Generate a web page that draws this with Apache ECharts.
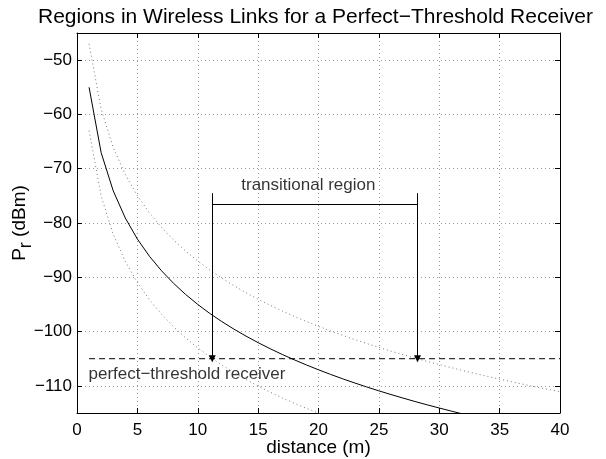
<!DOCTYPE html>
<html><head><meta charset="utf-8">
<script src="https://cdn.jsdelivr.net/npm/echarts@6/dist/echarts.min.js"></script>
<style>html,body{margin:0;padding:0;background:#fff}#c{width:606px;height:459px}</style>
</head><body><div id="c"></div>
<script>
// ---- data ----
const distance = [1,2,3,4,5,6,7,8,9,10,11,12,13,14,15,16,17,18,19,20,21,22,23,24,25,26,27,28,29,30,31,32,33,34,35,36,37,38,39,40];
const meanPr = [-55,-67.04,-74.08,-79.08,-82.96,-86.13,-88.80,-91.12,-93.17,-95,-96.66,-98.17,-99.56,-100.84,-102.04,-103.16,-104.22,-105.21,-106.15,-107.04,-107.89,-108.70,-109.47,-110.21,-110.92,-111.60,-112.25,-112.89,-113.50,-114.08,-114.65,-115.21,-115.74,-116.26,-116.76,-117.25,-117.73,-118.19,-118.64,-119.08];
const upperPr = [-47,-59.04,-66.08,-71.08,-74.96,-78.13,-80.80,-83.12,-85.17,-87,-88.66,-90.17,-91.56,-92.84,-94.04,-95.16,-96.22,-97.21,-98.15,-99.04,-99.89,-100.70,-101.47,-102.21,-102.92,-103.60,-104.25,-104.89,-105.50,-106.08,-106.65,-107.21,-107.74,-108.26,-108.76,-109.25,-109.73,-110.19,-110.64,-111.08];
const lowerPr = [-63,-75.04,-82.08,-87.08,-90.96,-94.13,-96.80,-99.12,-101.17,-103,-104.66,-106.17,-107.56,-108.84,-110.04,-111.16,-112.22,-113.21,-114.15,-115.04,-115.89,-116.70,-117.47,-118.21,-118.92,-119.60,-120.25,-120.89,-121.50,-122.08,-122.65,-123.21,-123.74,-124.26,-124.76,-125.25,-125.73,-126.19,-126.64,-127.08];
const thresholdX = [1, 40];
const thresholdPr = -105;
const regionX = [11.2, 28.2];
const regionTopPr = -74.5;
const regionBarPr = -76.6;
const regionLabel = 'transitional region';
const regionLabelAt = [19.16, -73.1];
const thresholdLabel = 'perfect\u2212threshold receiver';
const thresholdLabelAt = [0.95, -107.8];
const xRange = [0, 40], xStep = 5;
const yRange = [-115, -45];
const yTicks = [-110, -100, -90, -80, -70, -60, -50];
const titleText = 'Regions in Wireless Links for a Perfect\u2212Threshold Receiver';
const xName = 'distance (m)';

// ---- chart ----
const FONT = '"Liberation Sans", Arial, Helvetica, sans-serif';
const pair = (xs, ys) => xs.map((x, i) => [x, ys[i]]);
const minus = v => String(v).replace('-', '\u2212');
const gridLine = { show: true, lineStyle: { color: '#9a9a9a', type: [1, 3], width: 1 } };
const frame = { show: true, onZero: false, lineStyle: { color: '#000', width: 1 } };
const tick = { show: true, inside: true, length: 5, lineStyle: { color: '#000' } };
const yTick = Object.assign({}, tick, { customValues: yTicks });

const chart = echarts.init(document.getElementById('c'), null, { renderer: 'canvas' });
chart.setOption({
  animation: false,
  backgroundColor: '#fff',
  textStyle: { fontFamily: FONT },
  title: { text: titleText, left: 33, top: 2,
    textStyle: { fontFamily: FONT, fontSize: 21, fontWeight: 'normal', color: '#000' } },
  grid: { left: 77, right: 46, top: 33, bottom: 46, containLabel: false, outerBoundsMode: 'none' },
  xAxis: [
    { type: 'value', min: xRange[0], max: xRange[1], interval: xStep, position: 'bottom',
      axisLine: frame, axisTick: tick, splitLine: gridLine,
      axisLabel: { color: '#000', fontSize: 17, fontFamily: FONT, margin: 9 },
      name: xName, nameLocation: 'middle', nameGap: 25, nameMoveOverlap: false,
      nameTextStyle: { color: '#000', fontSize: 19, fontFamily: FONT } },
    { type: 'value', min: xRange[0], max: xRange[1], interval: xStep, position: 'top',
      axisLine: frame, axisTick: tick, splitLine: { show: false }, axisLabel: { show: false } }
  ],
  yAxis: [
    { type: 'value', min: yRange[0], max: yRange[1], interval: 5, position: 'left',
      axisLine: frame, axisTick: yTick, splitLine: gridLine,
      axisLabel: { color: '#000', fontSize: 17, fontFamily: FONT, margin: 5,
        customValues: yTicks, formatter: minus },
      name: '{p|P}{s|r}{p| (dBm)}', nameLocation: 'middle', nameGap: 42, nameRotate: 90,
      nameMoveOverlap: false,
      nameTextStyle: { color: '#000', fontSize: 19, fontFamily: FONT,
        rich: { p: { fontSize: 19, fontFamily: FONT, color: '#000' },
                s: { fontSize: 18, fontFamily: FONT, color: '#000', padding: [12, 0, 0, 0] } } } },
    { type: 'value', min: yRange[0], max: yRange[1], interval: 5, position: 'right',
      axisLine: frame, axisTick: yTick, splitLine: { show: false }, axisLabel: { show: false } }
  ],
  series: [
    { name: 'upper', type: 'line', data: pair(distance, upperPr), showSymbol: false, symbol: 'none',
      lineStyle: { color: '#777', width: 1, type: [1, 3] }, clip: true, silent: true },
    { name: 'lower', type: 'line', data: pair(distance, lowerPr), showSymbol: false, symbol: 'none',
      lineStyle: { color: '#777', width: 1, type: [1, 3] }, clip: true, silent: true },
    { name: 'mean', type: 'line', data: pair(distance, meanPr), showSymbol: false, symbol: 'none',
      lineStyle: { color: '#000', width: 1 }, clip: true, silent: true },
    { name: 'threshold', type: 'line', data: thresholdX.map(x => [x, thresholdPr]), symbol: 'none',
      lineStyle: { color: '#000', width: 1, type: [6, 4] }, silent: true,
      markLine: { silent: true, animation: false, symbol: ['none', 'triangle'], symbolSize: 7,
        lineStyle: { color: '#000', width: 1, type: 'solid' }, label: { show: false },
        data: [
          [{ coord: [regionX[0], regionTopPr] }, { coord: [regionX[0], thresholdPr] }],
          [{ coord: [regionX[1], regionTopPr] }, { coord: [regionX[1], thresholdPr] }],
          [{ coord: [regionX[0], regionBarPr], symbol: 'none' }, { coord: [regionX[1], regionBarPr], symbol: 'none' }]
        ] } },
    { name: 'labels', type: 'scatter', symbolSize: 0, silent: true,
      data: [
        { value: regionLabelAt, label: { show: true, position: 'inside', formatter: regionLabel } },
        { value: thresholdLabelAt, label: { show: true, position: 'right', distance: 0, formatter: thresholdLabel } }
      ],
      label: { color: '#000', fontSize: 17, fontFamily: FONT } }
  ]
});
</script></body></html>
